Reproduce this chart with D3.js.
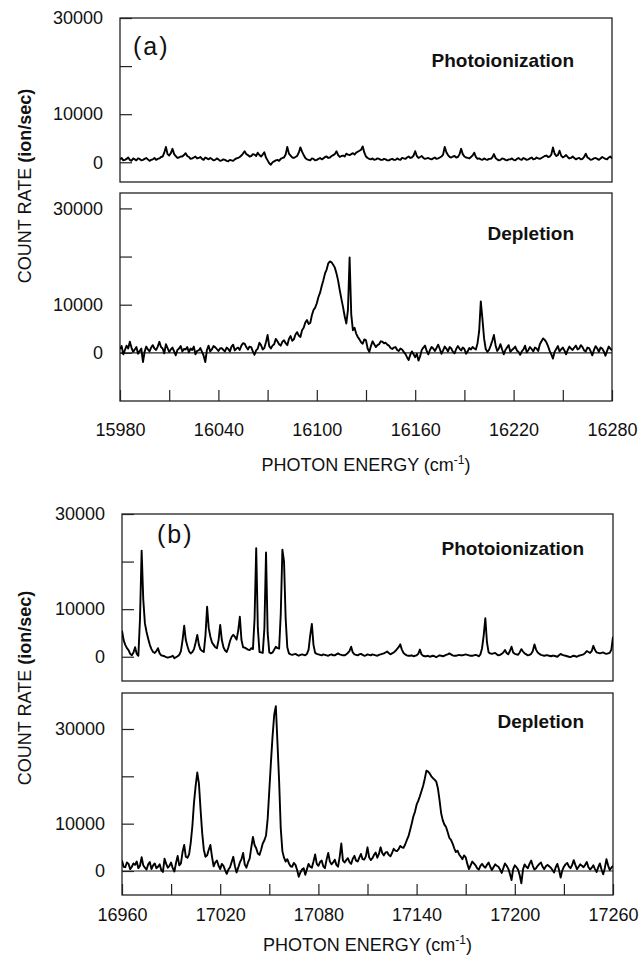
<!DOCTYPE html>
<html>
<head>
<meta charset="utf-8">
<script src="https://cdn.jsdelivr.net/npm/d3@7/dist/d3.min.js"></script>
<style>
  body { margin: 0; background: #fff; }
  svg text { font-family: "Liberation Sans", Arial, sans-serif; fill: #111; }
</style>
</head>
<body>
<div id="chart"></div>
<script>
// scan ranges (cm-1), one sample per cm-1
const rangeA = [15980, 16280];
const rangeB = [16960, 17260];

// (a) photoionization, ion/sec
const photoA = [
  600, 900, 400, 500, 700, 1000, 500, 300, 800, 600, 400, 800, 700, 400, 500, 700, 900, 600, 300, 500,
  600, 900, 500, 700, 800, 1100, 1200, 2000, 3200, 1700, 1400, 1900, 2800, 1700, 1300, 900, 1000, 1200, 1200, 1500,
  1900, 1300, 1100, 700, 800, 1000, 1200, 800, 900, 1100, 700, 500, 1000, 800, 600, 900, 700, 400, 500, 800,
  600, 300, 400, 600, 500, 300, 200, 500, 400, 300, 600, 800, 900, 1100, 1400, 1800, 2300, 1700, 1500, 1200,
  1300, 1700, 1600, 1300, 2000, 1500, 1200, 1600, 2100, 1000, 400, -200, -500, 0, 200, 400, 500, 300, 700, 900,
  1000, 1600, 3200, 1800, 1400, 1000, 900, 1100, 1300, 2000, 3100, 2200, 1500, 900, 600, 500, 400, 800, 700, 400,
  500, 700, 900, 600, 800, 1100, 1200, 900, 1000, 1300, 1500, 1700, 2300, 1500, 1100, 1300, 1400, 1200, 1800, 1600,
  1500, 1700, 1900, 1600, 2000, 2200, 2400, 2600, 3300, 2000, 1200, 900, 700, 600, 800, 500, 600, 800, 700, 500,
  500, 700, 600, 400, 400, 600, 700, 500, 500, 800, 600, 500, 900, 800, 700, 1000, 1200, 900, 1000, 1400,
  2300, 1300, 900, 1100, 1300, 900, 700, 800, 900, 700, 600, 800, 1000, 700, 800, 1000, 1200, 1600, 3200, 2100,
  1500, 1100, 1000, 1200, 1300, 1000, 1100, 1600, 2800, 1700, 1200, 1000, 900, 800, 1100, 1400, 2000, 1100, 700, 800,
  600, 500, 800, 600, 500, 700, 700, 1000, 1700, 900, 600, 400, 500, 800, 700, 500, 400, 600, 600, 800,
  500, 400, 700, 900, 600, 500, 900, 700, 500, 600, 800, 1000, 600, 700, 1000, 800, 700, 900, 1100, 1300,
  1400, 1100, 1200, 1600, 3100, 1800, 1300, 1500, 2400, 1400, 1000, 1200, 1500, 1100, 800, 900, 1200, 900, 600, 800,
  900, 600, 700, 1100, 1800, 1000, 800, 500, 600, 800, 900, 700, 500, 800, 1100, 900, 700, 600, 1000, 1200,
  800];

// (a) depletion
const deplA = [
  800, 1400, -300, 600, 1500, 900, 2300, 1100, 200, 700, 1200, -200, 400, 900, -1900, 200, 1300, 700, 300, 1100,
  1600, 900, 600, 1300, 2300, 1200, 900, -100, 1800, 1000, 200, 700, 1100, 300, -500, 600, 900, 1400, 300, 800,
  700, 1200, 100, 900, 600, 1300, -300, 400, 500, 1000, 200, -600, -1900, 600, 1500, 300, 700, 1400, 1200, 800,
  400, 900, 1000, 600, 300, 1100, 800, 300, 1300, 1700, 500, 900, 1100, 600, 1500, 2000, 1900, 1200, 700, 1300,
  1200, 300, -400, 500, 900, 2100, 1600, 700, 1000, 2200, 3700, 1400, 900, 1500, 1800, 2900, 2400, 1800, 1500, 2300,
  2600, 2000, 1600, 2900, 3500, 2500, 2800, 3800, 4300, 3600, 3300, 4700, 5200, 6300, 6800, 6000, 6200, 7800, 8900, 9400,
  10300, 11600, 12500, 13900, 15100, 16500, 17300, 18600, 19000, 18800, 18300, 17700, 16500, 15000, 13000, 11200, 9500, 7600, 6100, 9000,
  19800, 8000, 4700, 5200, 4000, 3300, 2800, 2200, 1900, 2800, 2600, 900, 200, 1400, 2400, 1800, 1200, 1600, 1800, 2400,
  2300, 2000, 2100, 1700, 1500, 1000, 800, 1100, 1200, 600, 400, 900, 700, 200, -200, -900, -1500, -400, 300, -300,
  -900, -200, -1600, -700, 600, 1100, 1500, 400, -300, 600, 1200, 900, 400, 1000, 1700, 800, -200, 500, 1300, 900,
  300, 1200, 900, 200, -100, 800, 1400, 900, 500, 1100, 800, -200, 300, 1000, 700, 1200, 900, 700, 2000, 4500,
  10700, 7000, 3000, 800, 200, 600, 1500, 2500, 3700, 1600, 400, 900, 1800, 700, -300, 600, 1100, 1600, 200, 600,
  900, 1300, 500, 200, -400, 300, 700, 1500, 100, 600, 1200, 800, 300, 1100, 900, 400, 1800, 2400, 3000, 2700,
  2200, 1400, 400, -300, -1200, 200, 800, 1400, 300, 700, 1100, 500, -300, 600, 1300, 900, 600, 1100, 1500, 700,
  900, 1600, 1200, 500, 300, 1100, 1000, 300, -500, 600, 1400, 900, 200, 1100, 900, 300, -600, 400, 1300, 900,
  500];

// (b) photoionization
const photoB = [
  5500, 3500, 2500, 1800, 1400, 600, 300, 900, 2000, 600, 200, 8000, 22300, 12000, 7000, 5200, 3800, 2500, 1600, 1000,
  800, 1200, 1800, 700, 300, 200, 100, -100, -200, -100, 0, 200, -300, -100, 100, 400, 1200, 3500, 6500, 3500,
  2200, 1100, 700, 1000, 1600, 3000, 4600, 2500, 1500, 1200, 1000, 4500, 10500, 6000, 4200, 3000, 2500, 2000, 1800, 3500,
  6700, 3500, 2000, 1300, 1000, 2000, 3300, 4200, 4600, 4200, 3600, 5500, 8400, 3500, 2000, 1900, 1700, 1500, 1400, 1800,
  1600, 8000, 22800, 6000, 1000, 900, 800, 6000, 21900, 5000, 900, 700, 900, 1500, 2100, 1800, 1700, 9000, 22500, 20000,
  8000, 2000, 700, 500, 400, 500, 600, 400, 200, 400, 500, 400, 300, 600, 1500, 4500, 6900, 2500, 800, 600,
  500, 400, 300, 500, 400, 300, 200, 400, 500, 300, 300, 500, 700, 500, 400, 300, 300, 500, 800, 1200,
  2100, 900, 500, 400, 300, 500, 600, 400, 200, 300, 500, 400, 300, 500, 400, 300, 200, 400, 500, 600,
  700, 900, 1100, 800, 500, 700, 900, 1200, 1600, 2000, 2600, 1500, 800, 500, 300, 200, 200, 300, 100, 200,
  300, 600, 1500, 500, 200, 100, 100, 200, 0, 100, 200, 100, -100, 100, 300, 200, 100, 200, 400, 500,
  700, 500, 300, 200, 200, 300, 400, 300, 300, 400, 500, 400, 300, 200, 200, 300, 400, 300, 100, 500,
  1800, 4500, 8100, 3000, 900, 700, 600, 700, 800, 500, 300, 400, 600, 900, 1400, 800, 500, 1200, 2100, 900,
  600, 500, 400, 900, 1600, 1100, 700, 500, 300, 400, 600, 1200, 2600, 1500, 900, 600, 400, 300, 200, 300,
  300, 200, 100, 200, 200, 100, 0, 300, 600, 400, 300, 200, 100, 0, -100, 100, 200, 100, 0, 200,
  300, 400, 500, 800, 1200, 1000, 800, 1200, 2300, 1400, 900, 800, 700, 800, 900, 700, 600, 700, 800, 1500,
  4200];

// (b) depletion
const deplB = [
  2200, 900, 800, 1800, 1500, 400, 900, 1600, 1300, 2000, 600, 1100, 2900, 1200, 700, 300, 1400, 1900, 400, 1200,
  1600, 600, 900, 1400, 200, -200, 2600, 1500, 700, 1100, 1800, 600, -100, 1700, 3200, 1200, 1600, 4000, 5500, 3000,
  2800, 3500, 6000, 9500, 14500, 18000, 20800, 18500, 13000, 8000, 4500, 3000, 3300, 4500, 5500, 3000, 1000, 1800, 2200, 1100,
  400, 1500, 1100, 200, -600, 300, 800, 1900, 3000, 1000, -300, 700, 1800, 2500, 3800, 1400, 700, 1800, 2600, 5000,
  7200, 5500, 4800, 3700, 3400, 4500, 5800, 6500, 7500, 11000, 17000, 23000, 28500, 33000, 34800, 27000, 19000, 9000, 4200, 2800,
  2000, 2500, 1600, 1000, 900, 1700, 1300, 200, -1200, -300, 300, 600, -800, 400, 1500, 900, 700, 2000, 3500, 1500,
  1100, 1900, 2200, 1000, 600, 2400, 3800, 2000, 1400, 1800, 2400, 1300, 900, 3000, 5800, 2200, 1800, 2300, 2700, 1900,
  1500, 2600, 3200, 2200, 2000, 2800, 3600, 2500, 2400, 3100, 5000, 2900, 2300, 2700, 3400, 3900, 2800, 3600, 5000, 3800,
  3300, 3900, 4000, 3400, 3100, 3800, 4700, 4300, 4200, 4600, 5300, 5000, 4900, 5600, 6500, 7300, 8600, 10000, 11500, 12500,
  14000, 14800, 15800, 16900, 18000, 19500, 21200, 21000, 20600, 20000, 19600, 19300, 18900, 17500, 15000, 12200, 10700, 9800, 9300, 8200,
  7000, 6600, 5800, 4800, 4000, 4300, 3500, 3000, 2500, 3300, 2900, 1500, 400, 1200, 2000, 1600, 1200, 600, 300, 1100,
  1500, 1000, 700, 1300, 1800, 900, 200, 800, 1400, 1100, 900, 300, -400, 600, 1600, 1100, 500, -600, -1900, 400,
  1200, 800, 300, -900, -2600, 300, 1400, 900, 600, 1500, 2200, 1100, 300, 600, 1100, 1500, 1800, 900, 400, 1000,
  1300, 1000, 700, 200, -300, 800, 1500, 300, -1400, 100, 900, 1400, 1700, 1000, 600, 1200, 2300, 1300, 400, 900,
  1400, 1100, 800, 1300, 1900, 800, 300, 700, 1200, 400, -200, 800, 1600, 300, -700, 600, 2500, 1200, 200, 700,
  1100];

const yTickValues = [0, 10000, 20000, 30000];
const yTickLabels = ["0", "10000", "", "30000"];
const xTitle = "PHOTON ENERGY (cm";
const yTitle = "COUNT RATE";
const yUnit = "(ion/sec)";

const W = 640, H = 966;

const svg = d3.select("#chart").append("svg")
  .attr("width", W)
  .attr("height", H);

// one entry per frame
const panels = [
  { range: rangeA, values: photoA, left: 120, right: 612, top: 18, bottom: 182,
    yDomain: [-4100, 30000], label: "Photoionization", lx: 574, ly: 67, zero: false },
  { range: rangeA, values: deplA, left: 120, right: 612, top: 193, bottom: 401,
    yDomain: [-10000, 33200], label: "Depletion", lx: 574, ly: 240, zero: true,
    xAxis: { pad: 22, titleY: 471 } },
  { range: rangeB, values: photoB, left: 122, right: 613, top: 514, bottom: 681,
    yDomain: [-5100, 30000], label: "Photoionization", lx: 584, ly: 555, zero: false },
  { range: rangeB, values: deplB, left: 122, right: 613, top: 693, bottom: 895,
    yDomain: [-5070, 37600], label: "Depletion", lx: 584, ly: 728, zero: true,
    xAxis: { pad: 13, titleY: 951 } }
];

panels.forEach(function(p, k) {
  const x = d3.scaleLinear()
    .domain(p.range)
    .range([p.left, p.right]);
  const y = d3.scaleLinear()
    .domain(p.yDomain)
    .range([p.bottom, p.top]);
  const step = (p.range[1] - p.range[0]) / (p.values.length - 1);

  const g = svg.append("g");

  g.append("clipPath")
    .attr("id", "clip" + k)
    .append("rect")
    .attr("x", p.left).attr("y", p.top)
    .attr("width", p.right - p.left).attr("height", p.bottom - p.top);

  // y ticks point into the frame
  g.append("g")
    .attr("transform", `translate(${p.left},0)`)
    .style("font-size", "18px")
    .call(d3.axisLeft(y)
      .tickValues(yTickValues)
      .tickSize(-12)
      .tickPadding(17)
      .tickFormat((d, i) => yTickLabels[i]))
    .call(a => a.select(".domain").remove())
    .call(a => a.selectAll("line").attr("stroke", "#222").attr("stroke-width", 1.2))
    .call(a => a.selectAll("text").attr("fill", "#111").attr("font-family", "Liberation Sans, Arial, sans-serif"));

  if (p.zero) {
    g.append("line")
      .attr("x1", p.left).attr("x2", p.right)
      .attr("y1", y(0)).attr("y2", y(0))
      .attr("stroke", "#222").attr("stroke-width", 1.2);
  }

  if (p.xAxis) {
    const ticks = d3.range(p.range[0], p.range[1] + 1, 30);
    g.append("g")
      .attr("transform", `translate(0,${p.bottom})`)
      .style("font-size", "18px")
      .call(d3.axisBottom(x)
        .tickValues(ticks)
        .tickSize(-11)
        .tickPadding(p.xAxis.pad)
        .tickFormat(d => (d - p.range[0]) % 60 === 0 ? d : ""))
      .call(a => a.select(".domain").remove())
      .call(a => a.selectAll("line").attr("stroke", "#222").attr("stroke-width", 1.2))
      .call(a => a.selectAll("text").attr("fill", "#111").attr("font-family", "Liberation Sans, Arial, sans-serif"));

    const t = g.append("text")
      .attr("x", (p.left + p.right) / 2)
      .attr("y", p.xAxis.titleY)
      .attr("text-anchor", "middle")
      .style("font-size", "18px")
      .text(xTitle);
    t.append("tspan").attr("dy", -7).style("font-size", "12px").text("-1");
    t.append("tspan").attr("dy", 7).text(")");
  }

  // frame
  g.append("rect")
    .attr("x", p.left).attr("y", p.top)
    .attr("width", p.right - p.left).attr("height", p.bottom - p.top)
    .attr("fill", "none")
    .attr("stroke", "#222")
    .attr("stroke-width", 1.3);

  const line = d3.line()
    .x((d, i) => x(p.range[0] + i * step))
    .y(d => y(d));

  g.append("path")
    .datum(p.values)
    .attr("clip-path", `url(#clip${k})`)
    .attr("fill", "none")
    .attr("stroke", "#000")
    .attr("stroke-width", 1.9)
    .attr("stroke-linejoin", "round")
    .attr("d", line);

  g.append("text")
    .attr("x", p.lx).attr("y", p.ly)
    .attr("text-anchor", "end")
    .style("font-size", "19px")
    .style("font-weight", "bold")
    .text(p.label);
});

// panel letters
svg.append("text").attr("x", 133).attr("y", 55)
  .style("font-size", "25px").style("letter-spacing", "2px").text("(a)");
svg.append("text").attr("x", 157).attr("y", 543)
  .style("font-size", "25px").style("letter-spacing", "2px").text("(b)");

// y axis titles
[{ cy: 186 }, { cy: 688 }].forEach(function(d) {
  const t = svg.append("text")
    .attr("transform", `translate(31,${d.cy}) rotate(-90)`)
    .attr("text-anchor", "middle")
    .style("font-size", "18px")
    .text(yTitle + " ");
  t.append("tspan").style("font-weight", "bold").text(yUnit);
});
</script>
</body>
</html>
